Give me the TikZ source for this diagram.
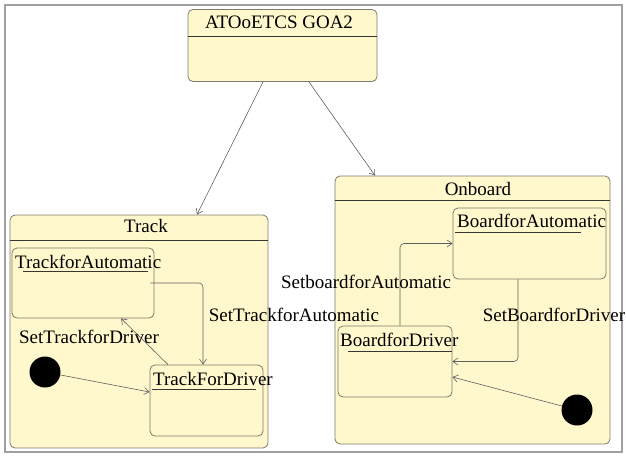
\documentclass[tikz,border=0pt]{standalone}
\usepackage{fontspec}
\setmainfont{Liberation Serif}
\usepackage{tikz}
\usetikzlibrary{arrows.meta}

\definecolor{statefill}{RGB}{255,248,204}
\definecolor{stateline}{RGB}{125,122,110}
\definecolor{sepline}{RGB}{55,55,50}
\definecolor{connline}{RGB}{95,95,95}
\definecolor{framecol}{RGB}{160,160,160}

\begin{document}
\begin{tikzpicture}[x=1pt,y=-1pt,
  >={Straight Barb[length=5pt,width=7pt]},
  every node/.style={font=\fontsize{19}{22}\selectfont},
  statebox/.style={draw=stateline, fill=statefill, rounded corners=5pt, inner sep=0pt, line width=0.8pt},
  sname/.style={anchor=west, inner sep=0pt},
  initdot/.style={circle, fill=black, minimum size=31pt, inner sep=0pt},
  conn/.style={draw=connline, line width=0.6pt}]
\useasboundingbox (0,0) rectangle (626,456);
\draw[framecol, line width=1.4pt] (5,5) rectangle (622,452);

% top state
\node[statebox, minimum width=189, minimum height=72] (goa) at (282.5,45.5) {};
\node (goatitle) at (279,22) {ATOoETCS GOA2};
\draw[sepline] (goa.west |- 0,36) -- (goa.east |- 0,36);

% Track
\node[statebox, minimum width=258, minimum height=233] (track) at (139,331.5) {};
\node (tracktitle) at (146,226) {Track};
\draw[sepline] (track.west |- 0,240) -- (track.east |- 0,240);

\node[statebox, minimum width=142, minimum height=70] (tfa) at (83,283) {};
\node[sname] (tfaname) at (15,262) {TrackforAutomatic};
\draw[sepline] (23,271) -- (148,271);

\node[statebox, minimum width=113, minimum height=71] (tfd) at (206.5,400.5) {};
\node[sname] (tfdname) at (153,379) {TrackForDriver};
\draw[sepline] (152,389) -- (256,389);

\node[initdot] (tinit) at (45,372) {};

% Onboard
\node[statebox, minimum width=275, minimum height=268] (onboard) at (472.5,310) {};
\node (onboardtitle) at (478,189) {Onboard};
\draw[sepline] (onboard.west |- 0,200) -- (onboard.east |- 0,200);

\node[statebox, minimum width=153, minimum height=71] (bfa) at (529.5,243.5) {};
\node[sname] (bfaname) at (457,221) {BoardforAutomatic};
\draw[sepline] (455,232) -- (581,232);

\node[statebox, minimum width=114, minimum height=71] (bfd) at (395,361.5) {};
\node[sname] (bfdname) at (340,340) {BoardforDriver};
\draw[sepline] (348,351) -- (452,351);

\node[initdot] (binit) at (577,410) {};

% transitions
\draw[conn,->] ([xshift=-19.5pt]goa.south) -- ([xshift=58pt]track.north);
\draw[conn,->] ([xshift=26.5pt]goa.south) -- ([xshift=-97.5pt]onboard.north);

\draw[conn,->,rounded corners=4pt] ([xshift=-4pt]tfa.east) -| ([xshift=-3.5pt]tfd.north);
\node (settfa) at (294,315) {SetTrackforAutomatic};
\draw[conn,->] ([xshift=-38.5pt]tfd.north) -- ([xshift=38pt]tfa.south);
\node (settfd) at (89,337) {SetTrackforDriver};
\draw[conn,->] (tinit) -- ([yshift=8.5pt]tfd.west);

\draw[conn,->,rounded corners=4pt] ([xshift=5pt]bfd.north) |- (bfa.west);
\node (setbfa) at (366,282) {SetboardforAutomatic};
\draw[conn,->,rounded corners=4pt] ([xshift=-11.5pt]bfa.south) |- (bfd.east);
\node (setbfd) at (554,315) {SetBoardforDriver};
\draw[conn,->] (binit) -- ([yshift=-15.5pt]bfd.east);

\end{tikzpicture}
\end{document}
